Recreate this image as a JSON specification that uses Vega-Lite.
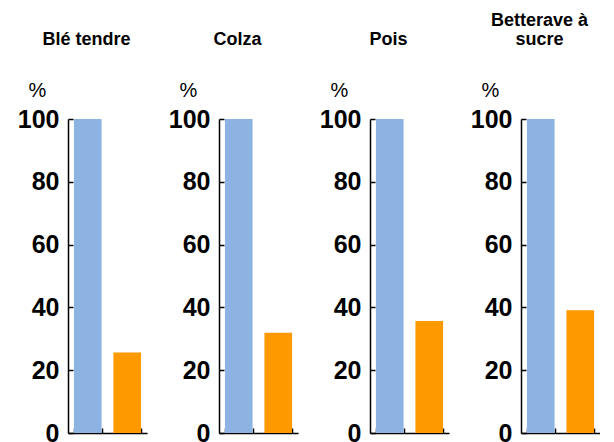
{
  "$schema": "https://vega.github.io/schema/vega-lite/v6.json",
  "padding": {"left": 17, "top": 12, "right": 0, "bottom": 0},
  "spacing": 21,
  "data": {"values": [
    {"culture": "Blé tendre", "serie": "A", "valeur": 100},
    {"culture": "Blé tendre", "serie": "B", "valeur": 25.6},
    {"culture": "Colza", "serie": "A", "valeur": 100},
    {"culture": "Colza", "serie": "B", "valeur": 31.9},
    {"culture": "Pois", "serie": "A", "valeur": 100},
    {"culture": "Pois", "serie": "B", "valeur": 35.7},
    {"culture": "Betterave à sucre", "serie": "A", "valeur": 100},
    {"culture": "Betterave à sucre", "serie": "B", "valeur": 39.1}
  ]},
  "hconcat": [
    {
      "transform": [{"filter": "datum.culture == 'Blé tendre'"}],
      "title": {"text": ["", "Blé tendre"]},
      "width": 79, "height": 314,
      "mark": {"type": "bar"},
      "encoding": {
        "x": {"field": "serie", "type": "nominal", "scale": {"paddingInner": 0.3, "paddingOuter": 0.15},
          "axis": {"labels": false, "title": null, "domain": true, "ticks": true, "tickBand": "extent", "tickSize": -5, "domainColor": "black", "tickColor": "black", "domainWidth": 1.5, "tickWidth": 1.5, "grid": false}},
        "y": {"field": "valeur", "type": "quantitative", "scale": {"domain": [0, 100]},
          "axis": {"values": [0, 20, 40, 60, 80, 100], "grid": false, "domain": true, "ticks": true, "labels": true, "labelFontSize": 25, "labelFontWeight": "bold", "labelColor": "black", "labelPadding": 14, "labelFlush": false, "labelOverlap": false, "tickSize": -5, "tickColor": "black", "tickWidth": 1.5, "domainColor": "black", "domainWidth": 1.5, "title": "%", "titleAngle": 0, "titleX": -31, "titleY": -23, "titleAlign": "center", "titleBaseline": "alphabetic", "titleFontSize": 20, "titleFontWeight": "normal", "titleColor": "black"}},
        "color": {"field": "serie", "type": "nominal", "scale": {"range": ["#8DB3E2", "#FF9900"]}, "legend": null}
      }
    },
    {
      "transform": [{"filter": "datum.culture == 'Colza'"}],
      "title": {"text": ["", "Colza"]},
      "width": 79, "height": 314,
      "mark": {"type": "bar"},
      "encoding": {
        "x": {"field": "serie", "type": "nominal", "scale": {"paddingInner": 0.3, "paddingOuter": 0.15},
          "axis": {"labels": false, "title": null, "domain": true, "ticks": true, "tickBand": "extent", "tickSize": -5, "domainColor": "black", "tickColor": "black", "domainWidth": 1.5, "tickWidth": 1.5, "grid": false}},
        "y": {"field": "valeur", "type": "quantitative", "scale": {"domain": [0, 100]},
          "axis": {"values": [0, 20, 40, 60, 80, 100], "grid": false, "domain": true, "ticks": true, "labels": true, "labelFontSize": 25, "labelFontWeight": "bold", "labelColor": "black", "labelPadding": 14, "labelFlush": false, "labelOverlap": false, "tickSize": -5, "tickColor": "black", "tickWidth": 1.5, "domainColor": "black", "domainWidth": 1.5, "title": "%", "titleAngle": 0, "titleX": -31, "titleY": -23, "titleAlign": "center", "titleBaseline": "alphabetic", "titleFontSize": 20, "titleFontWeight": "normal", "titleColor": "black"}},
        "color": {"field": "serie", "type": "nominal", "scale": {"range": ["#8DB3E2", "#FF9900"]}, "legend": null}
      }
    },
    {
      "transform": [{"filter": "datum.culture == 'Pois'"}],
      "title": {"text": ["", "Pois"]},
      "width": 79, "height": 314,
      "mark": {"type": "bar"},
      "encoding": {
        "x": {"field": "serie", "type": "nominal", "scale": {"paddingInner": 0.3, "paddingOuter": 0.15},
          "axis": {"labels": false, "title": null, "domain": true, "ticks": true, "tickBand": "extent", "tickSize": -5, "domainColor": "black", "tickColor": "black", "domainWidth": 1.5, "tickWidth": 1.5, "grid": false}},
        "y": {"field": "valeur", "type": "quantitative", "scale": {"domain": [0, 100]},
          "axis": {"values": [0, 20, 40, 60, 80, 100], "grid": false, "domain": true, "ticks": true, "labels": true, "labelFontSize": 25, "labelFontWeight": "bold", "labelColor": "black", "labelPadding": 14, "labelFlush": false, "labelOverlap": false, "tickSize": -5, "tickColor": "black", "tickWidth": 1.5, "domainColor": "black", "domainWidth": 1.5, "title": "%", "titleAngle": 0, "titleX": -31, "titleY": -23, "titleAlign": "center", "titleBaseline": "alphabetic", "titleFontSize": 20, "titleFontWeight": "normal", "titleColor": "black"}},
        "color": {"field": "serie", "type": "nominal", "scale": {"range": ["#8DB3E2", "#FF9900"]}, "legend": null}
      }
    },
    {
      "transform": [{"filter": "datum.culture == 'Betterave à sucre'"}],
      "title": {"text": ["Betterave à", "sucre"]},
      "width": 79, "height": 314,
      "mark": {"type": "bar"},
      "encoding": {
        "x": {"field": "serie", "type": "nominal", "scale": {"paddingInner": 0.3, "paddingOuter": 0.15},
          "axis": {"labels": false, "title": null, "domain": true, "ticks": true, "tickBand": "extent", "tickSize": -5, "domainColor": "black", "tickColor": "black", "domainWidth": 1.5, "tickWidth": 1.5, "grid": false}},
        "y": {"field": "valeur", "type": "quantitative", "scale": {"domain": [0, 100]},
          "axis": {"values": [0, 20, 40, 60, 80, 100], "grid": false, "domain": true, "ticks": true, "labels": true, "labelFontSize": 25, "labelFontWeight": "bold", "labelColor": "black", "labelPadding": 14, "labelFlush": false, "labelOverlap": false, "tickSize": -5, "tickColor": "black", "tickWidth": 1.5, "domainColor": "black", "domainWidth": 1.5, "title": "%", "titleAngle": 0, "titleX": -31, "titleY": -23, "titleAlign": "center", "titleBaseline": "alphabetic", "titleFontSize": 20, "titleFontWeight": "normal", "titleColor": "black"}},
        "color": {"field": "serie", "type": "nominal", "scale": {"range": ["#8DB3E2", "#FF9900"]}, "legend": null}
      }
    }
  ],
  "config": {
    "font": "Liberation Sans",
    "view": {"stroke": null},
    "title": {"fontSize": 18, "fontWeight": "bold", "color": "black", "anchor": "middle", "frame": "group", "dx": -21, "lineHeight": 19, "offset": 31}
  }
}
